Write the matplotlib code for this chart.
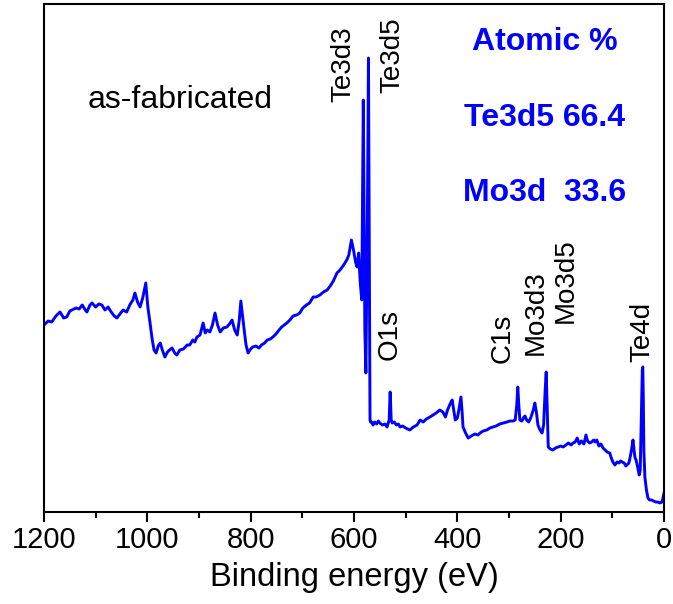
import matplotlib
matplotlib.use("Agg")
import matplotlib.pyplot as plt
from matplotlib.ticker import MultipleLocator

plt.rcParams['font.family'] = ['Liberation Sans', 'DejaVu Sans']

# XPS survey (intensity in arbitrary units)
energy = [1200, 1192, 1185, 1177, 1169, 1162, 1156, 1150, 1146, 1138, 1132, 1126, 1120, 1117,
          1111, 1107, 1100, 1094, 1088, 1082, 1076, 1070, 1064, 1059, 1053, 1047, 1040, 1034,
          1028, 1024, 1019, 1014, 1009, 1003, 999, 995, 991, 987, 983, 979, 975, 971, 966, 961,
          957, 952, 947, 943, 937, 930, 923, 918, 912, 908, 904, 898, 892, 888, 884, 879, 874,
          869, 864, 859, 853, 846, 841, 836, 831, 826, 822, 819, 816, 813, 809, 805, 800, 796,
          790, 784, 779, 773, 768, 762, 757, 751, 745, 740, 735, 730, 724, 718, 711, 705, 699,
          692, 686, 679, 673, 666, 659, 652, 646, 640, 633, 627, 620, 614, 610, 605, 601, 597,
          594, 591, 588, 585, 582, 579, 577, 574, 572, 570, 569, 568, 566, 563, 560, 556, 553,
          550, 545, 540, 536, 532, 530, 528, 526, 522, 518, 514, 511, 506, 500, 492, 485, 478,
          472, 466, 460, 453, 447, 441, 434, 428, 423, 419, 414, 410, 407, 404, 400, 397, 393,
          391, 389, 384, 379, 373, 366, 360, 356, 350, 343, 337, 331, 325, 318, 311, 304, 298,
          292, 288, 285, 283, 281, 279, 275, 271, 269, 266, 262, 258, 253, 250, 247, 244, 240,
          236, 233, 230, 228, 226, 224, 220, 215, 210, 205, 200, 195, 190, 185, 180, 176, 172,
          168, 164, 160, 155, 151, 148, 144, 140, 136, 133, 130, 126, 122, 118, 114, 110, 105,
          102, 99, 95, 91, 87, 84, 81, 77, 74, 72, 68, 65, 62, 60, 58, 56, 54, 51, 48, 46, 44,
          42, 41, 40, 39, 37, 34, 31, 28, 24, 20, 16, 12, 8, 4, 2, 0]
intensity = [187, 191, 190, 196, 200, 194, 195, 201, 202, 204, 203, 207, 202, 200,
             207, 209, 205, 208, 207, 202, 205, 200, 196, 194, 198, 202, 200, 207,
             212, 219, 210, 205, 214, 229, 205, 190, 174, 162, 159, 166, 169, 162, 155, 160,
             162, 164, 159, 157, 162, 163, 167, 167, 172, 170, 175, 177, 189, 179, 182, 180, 187,
             199, 187, 180, 184, 185, 188, 192, 182, 177, 192, 211, 197, 184, 167, 159, 163, 165,
             166, 164, 167, 169, 172, 173, 175, 178, 182, 185, 187, 189, 192, 196, 197, 199, 204,
             207, 209, 215, 215, 217, 220, 222, 226, 231, 239, 242, 247, 252, 257, 272, 262, 250,
             245, 259, 230, 212, 412, 182, 139, 300, 454, 200, 92, 90, 90, 87, 90, 88, 91,
             89, 87, 88, 85, 92, 120, 92, 89, 90, 87, 88, 85, 86, 84, 82, 85, 87,
             92, 90, 93, 95, 97, 99, 102, 100, 95, 102, 108, 112, 102, 92, 94, 102, 115,
             102, 85, 79, 74, 76, 78, 77, 79, 81, 82, 84, 85, 86, 88, 89, 90, 91,
             91, 92, 107, 125, 107, 92, 91, 95, 96, 92, 90, 94, 102, 109, 100, 87, 82,
             79, 87, 122, 140, 102, 65, 63, 62, 64, 65, 66, 65, 67, 69, 67, 69, 70,
             74, 68, 71, 68, 77, 71, 69, 70, 72, 70, 72, 66, 68, 64, 62, 60, 59,
             54, 50, 47, 50, 49, 51, 50, 49, 46, 47, 49, 56, 65, 72, 62, 54, 52, 45, 37, 42, 92,
             142, 145, 112, 62, 35, 22, 14, 12, 12, 11, 10, 10, 9, 10, 14, 19]

# peak labels: text, energy, bottom of label (same units as intensity)
peak_names = ['Te3d3', 'Te3d5', 'O1s', 'C1s', 'Mo3d3', 'Mo3d5', 'Te4d']
peak_x = [621, 526, 532, 313, 248, 190, 41]
peak_y = [410, 419, 152, 149, 157, 189, 150]

comp_lines = ['Atomic %', 'Te3d5 66.4', 'Mo3d  33.6']

fig = plt.figure(figsize=(6.73, 6.04), dpi=100)
ax = fig.add_axes([44/673, 92/604, 620/673, 508/604])

ax.plot(energy, intensity, color='#0000FF', lw=2.1)

ax.set_xlim(1200, 0)
ax.set_ylim(0, 508)
ax.set_yticks([])
ax.xaxis.set_major_locator(MultipleLocator(200))
ax.xaxis.set_minor_locator(MultipleLocator(100))
ax.tick_params(axis='x', which='major', direction='out', length=7, width=1.5,
               labelsize=21, pad=3)
ax.tick_params(axis='x', which='minor', direction='out', length=4, width=1.5)
ax.tick_params(axis='x', which='both', top=False)
for s in ax.spines.values():
    s.set_linewidth(1.5)

ax.set_xlabel('Binding energy (eV)', fontsize=23.5, labelpad=6)

for name, x, y in zip(peak_names, peak_x, peak_y):
    ax.text(x, y, name, rotation=90, ha='center', va='bottom', fontsize=20)

ax.text(0.219, 0.811, 'as-fabricated', transform=ax.transAxes, ha='center', va='center',
        fontsize=23)

for txt, yy in zip(comp_lines, [0.925, 0.776, 0.628]):
    ax.text(0.808, yy, txt, transform=ax.transAxes, ha='center', va='center',
            fontsize=23, fontweight='bold', color='#0000FF')

fig.savefig('out.png', dpi=100)
